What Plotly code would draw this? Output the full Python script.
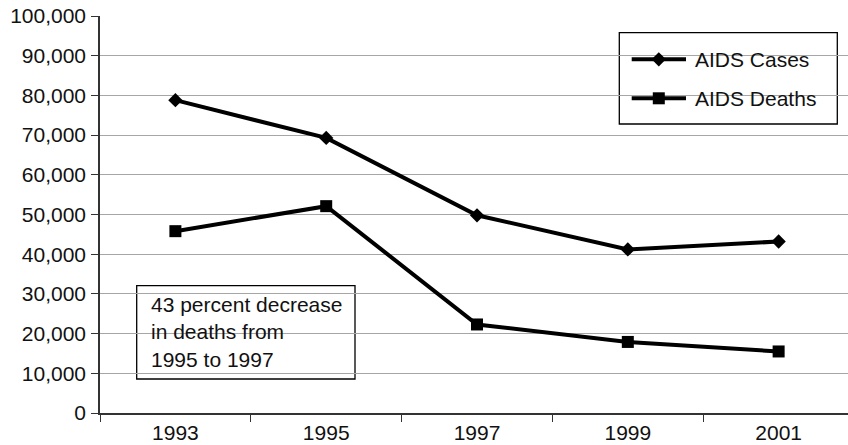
import plotly.graph_objects as go

# Reported AIDS cases and deaths, selected years
years = ["1993", "1995", "1997", "1999", "2001"]
aids_cases = [78800, 69300, 49800, 41200, 43200]
aids_deaths = [45800, 52100, 22300, 17900, 15500]
y_ticks = list(range(0, 100001, 10000))
series_names = ["AIDS Cases", "AIDS Deaths"]
note_text = "43 percent decrease<br>in deaths from<br>1995 to 1997"

x_pos = list(range(len(years)))
font_family = "Liberation Sans, Arial, Helvetica, sans-serif"
ink = "#111111"
axis_ink = "#333333"
fsize = 21

W, H = 848, 445
M_L, M_R, M_T, M_B = 100, 0, 16, 32

fig = go.Figure()
fig.add_trace(go.Scatter(
    x=x_pos, y=aids_cases, name=series_names[0], mode="lines+markers",
    line=dict(color="black", width=4),
    marker=dict(symbol="diamond", size=11, color="black"),
    showlegend=False,
))
fig.add_trace(go.Scatter(
    x=x_pos, y=aids_deaths, name=series_names[1], mode="lines+markers",
    line=dict(color="black", width=4),
    marker=dict(symbol="square", size=12, color="black"),
    showlegend=False,
))

# Overlay axes in pixel units for the key box and the note box
px = dict(xref="x2", yref="y2")

# Key: box, sample lines, markers and labels
key_rows = [(59.3, "diamond", 11), (98.3, "square", 12)]
fig.add_shape(type="rect", x0=619.3, x1=837.3, y0=32.7, y1=124,
              line=dict(color="black", width=1.3), fillcolor="white", layer="below", **px)
for (ky, sym, sz), label in zip(key_rows, series_names):
    fig.add_annotation(text=label, x=693.3, y=ky, xanchor="left", yanchor="middle",
                       showarrow=False, font=dict(family=font_family, size=fsize, color=ink), **px)
for (ky, sym, sz), label in zip(key_rows, series_names):
    fig.add_trace(go.Scatter(
        x=[631.7, 658.8, 686], y=[ky, ky, ky], mode="lines+markers",
        line=dict(color="black", width=4),
        marker=dict(symbol=sym, size=sz, color="black"),
        selectedpoints=[1], selected=dict(marker=dict(opacity=1)),
        unselected=dict(marker=dict(opacity=0)),
        xaxis="x2", yaxis="y2", showlegend=False, hoverinfo="skip",
    ))

# Note box
fig.add_shape(type="rect", x0=136.7, x1=355, y0=285.7, y1=379,
              line=dict(color="black", width=1.3), fillcolor="white", layer="below", **px)
fig.add_annotation(text=note_text, x=149.3, y=332.4, xanchor="left", yanchor="middle",
                   align="left", showarrow=False,
                   font=dict(family=font_family, size=fsize, color=ink), **px)

fig.update_layout(
    width=W, height=H,
    margin=dict(l=M_L, r=M_R, t=M_T, b=M_B, autoexpand=False),
    paper_bgcolor="white", plot_bgcolor="white",
    font=dict(family=font_family, size=fsize, color=ink),
    showlegend=False,
    xaxis=dict(
        range=[-0.5, 4.46], tickmode="array", tickvals=x_pos, ticktext=years,
        ticks="outside", ticklen=0, tickcolor="rgba(0,0,0,0)", ticklabelstandoff=0,
        showline=True, linecolor=axis_ink, linewidth=1.5,
        showgrid=False, zeroline=False, automargin=False,
        minor=dict(tickmode="array", tickvals=[i - 0.5 for i in range(len(years) + 1)],
                   ticks="outside", ticklen=7, tickcolor=axis_ink, tickwidth=1,
                   showgrid=False),
    ),
    yaxis=dict(
        range=[0, 100000], tickmode="array", tickvals=y_ticks,
        tickformat=",", ticks="outside", ticklen=7, tickcolor=axis_ink,
        ticklabelstandoff=1, automargin=False,
        showline=True, linecolor=axis_ink, linewidth=1.5,
        showgrid=True, gridcolor="#a6a6a6", gridwidth=1.2,
        zeroline=False,
    ),
    xaxis2=dict(overlaying="x", range=[M_L, W - M_R], visible=False, fixedrange=True),
    yaxis2=dict(overlaying="y", range=[H - M_B, M_T], visible=False, fixedrange=True),
)

fig.write_html("out.html")
